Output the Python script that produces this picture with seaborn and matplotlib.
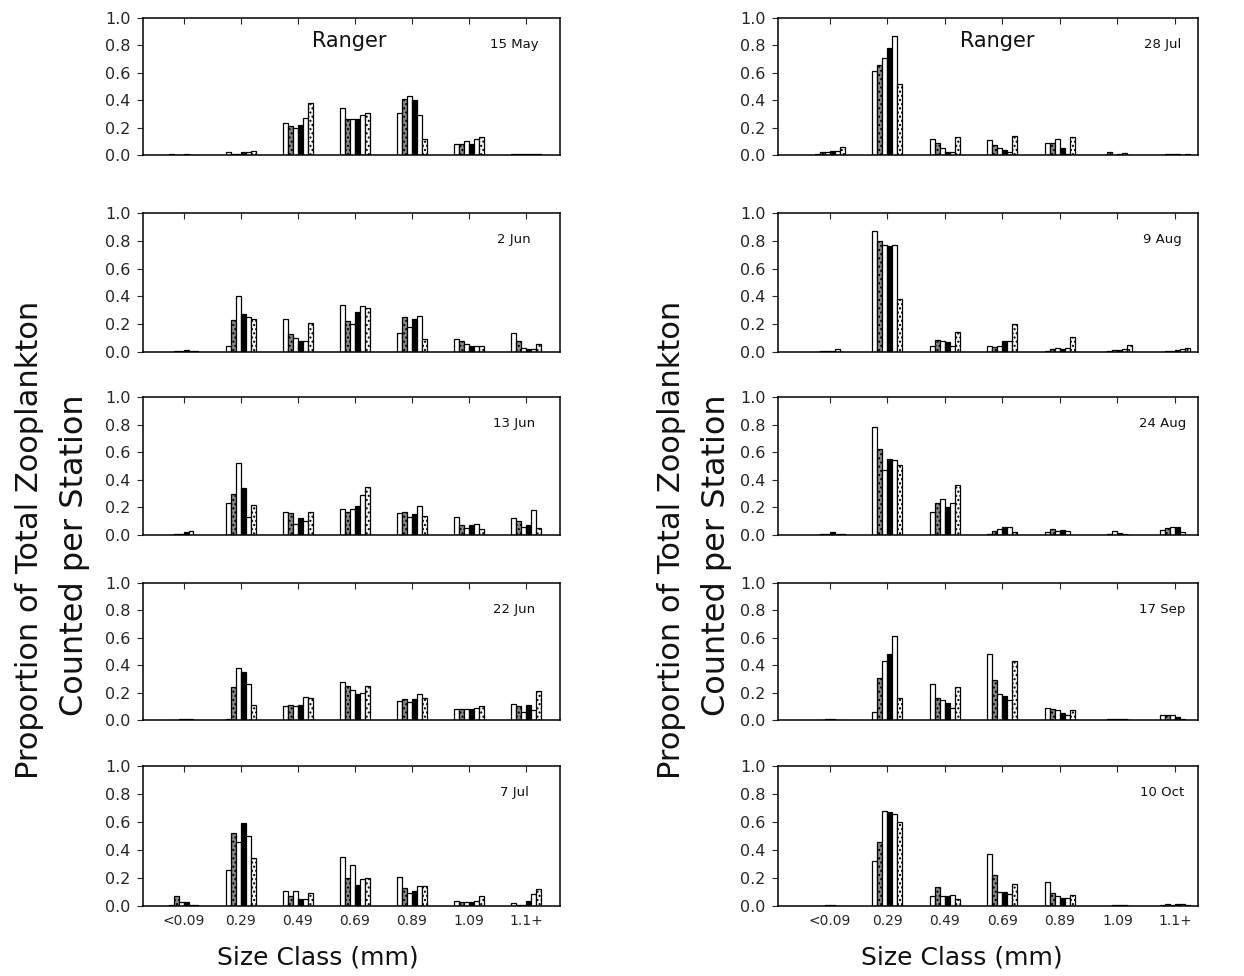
import numpy as np
import pandas as pd
import matplotlib
matplotlib.use("Agg")
import matplotlib.pyplot as plt
import seaborn as sns

# ---------------- data ----------------
size_classes = ["<0.09", "0.29", "0.49", "0.69", "0.89", "1.09", "1.1+"]
stations = ["S1", "S2", "S3", "S4", "S5", "S6"]

# rows: size class, columns: station
may15 = [[0.005, 0.0, 0.0, 0.005, 0.0, 0.0],
         [0.02, 0.01, 0.01, 0.02, 0.02, 0.03],
         [0.23, 0.21, 0.20, 0.22, 0.27, 0.38],
         [0.34, 0.26, 0.26, 0.26, 0.29, 0.31],
         [0.31, 0.41, 0.43, 0.40, 0.29, 0.12],
         [0.08, 0.08, 0.10, 0.08, 0.12, 0.13],
         [0.005, 0.01, 0.01, 0.01, 0.005, 0.005]]
jun02 = [[0.0, 0.005, 0.01, 0.015, 0.01, 0.005],
         [0.04, 0.23, 0.40, 0.27, 0.25, 0.24],
         [0.24, 0.13, 0.10, 0.08, 0.08, 0.21],
         [0.34, 0.22, 0.20, 0.29, 0.33, 0.32],
         [0.14, 0.25, 0.18, 0.24, 0.26, 0.09],
         [0.09, 0.08, 0.06, 0.04, 0.04, 0.04],
         [0.14, 0.08, 0.03, 0.02, 0.02, 0.06]]
jun13 = [[0.0, 0.01, 0.01, 0.02, 0.03, 0.0],
         [0.23, 0.30, 0.52, 0.34, 0.13, 0.22],
         [0.17, 0.16, 0.08, 0.12, 0.10, 0.17],
         [0.19, 0.17, 0.19, 0.21, 0.29, 0.35],
         [0.16, 0.17, 0.13, 0.15, 0.21, 0.14],
         [0.13, 0.07, 0.05, 0.07, 0.08, 0.04],
         [0.12, 0.10, 0.06, 0.07, 0.18, 0.05]]
jun22 = [[0.0, 0.0, 0.005, 0.01, 0.005, 0.0],
         [0.01, 0.24, 0.38, 0.35, 0.26, 0.11],
         [0.10, 0.11, 0.10, 0.11, 0.17, 0.16],
         [0.28, 0.25, 0.22, 0.19, 0.20, 0.25],
         [0.14, 0.15, 0.13, 0.15, 0.19, 0.16],
         [0.08, 0.08, 0.08, 0.08, 0.09, 0.10],
         [0.12, 0.10, 0.06, 0.11, 0.07, 0.21]]
jul07 = [[0.01, 0.07, 0.03, 0.03, 0.01, 0.01],
         [0.26, 0.52, 0.46, 0.59, 0.50, 0.34],
         [0.11, 0.07, 0.11, 0.05, 0.05, 0.09],
         [0.35, 0.20, 0.29, 0.15, 0.19, 0.20],
         [0.21, 0.13, 0.09, 0.11, 0.14, 0.14],
         [0.035, 0.03, 0.03, 0.03, 0.035, 0.07],
         [0.025, 0.005, 0.005, 0.035, 0.085, 0.125]]
jul28 = [[0.01, 0.02, 0.02, 0.03, 0.03, 0.06],
         [0.61, 0.66, 0.71, 0.78, 0.87, 0.52],
         [0.12, 0.09, 0.05, 0.025, 0.025, 0.13],
         [0.11, 0.07, 0.05, 0.04, 0.025, 0.14],
         [0.085, 0.09, 0.12, 0.05, 0.01, 0.13],
         [0.0, 0.02, 0.0, 0.01, 0.015, 0.0],
         [0.0, 0.01, 0.005, 0.01, 0.0, 0.01]]
aug09 = [[0.0, 0.01, 0.005, 0.01, 0.02, 0.0],
         [0.87, 0.80, 0.77, 0.76, 0.77, 0.38],
         [0.04, 0.085, 0.08, 0.07, 0.04, 0.145],
         [0.045, 0.035, 0.045, 0.08, 0.08, 0.205],
         [0.01, 0.02, 0.03, 0.02, 0.03, 0.11],
         [0.0, 0.01, 0.015, 0.015, 0.02, 0.05],
         [0.0, 0.005, 0.01, 0.015, 0.02, 0.03]]
aug24 = [[0.0, 0.005, 0.01, 0.02, 0.005, 0.01],
         [0.78, 0.62, 0.47, 0.55, 0.54, 0.51],
         [0.17, 0.235, 0.26, 0.20, 0.235, 0.36],
         [0.01, 0.03, 0.04, 0.055, 0.055, 0.02],
         [0.02, 0.045, 0.03, 0.035, 0.03, 0.0],
         [0.0, 0.01, 0.03, 0.015, 0.005, 0.0],
         [0.035, 0.05, 0.055, 0.055, 0.02, 0.0]]
sep17 = [[0.0, 0.0, 0.005, 0.01, 0.0, 0.0],
         [0.06, 0.31, 0.43, 0.48, 0.61, 0.16],
         [0.26, 0.16, 0.145, 0.125, 0.085, 0.24],
         [0.48, 0.295, 0.19, 0.175, 0.145, 0.43],
         [0.09, 0.08, 0.07, 0.05, 0.04, 0.07],
         [0.0, 0.005, 0.01, 0.01, 0.005, 0.0],
         [0.04, 0.035, 0.04, 0.02, 0.01, 0.0]]
oct10 = [[0.0, 0.0, 0.005, 0.005, 0.0, 0.0],
         [0.32, 0.455, 0.68, 0.67, 0.66, 0.60],
         [0.07, 0.135, 0.07, 0.07, 0.08, 0.05],
         [0.37, 0.22, 0.10, 0.10, 0.085, 0.155],
         [0.17, 0.09, 0.07, 0.06, 0.06, 0.08],
         [0.0, 0.0, 0.01, 0.005, 0.005, 0.0],
         [0.01, 0.015, 0.01, 0.015, 0.015, 0.01]]

left_dates = ["15 May", "2 Jun", "13 Jun", "22 Jun", "7 Jul"]
right_dates = ["28 Jul", "9 Aug", "24 Aug", "17 Sep", "10 Oct"]
left_data = [may15, jun02, jun13, jun22, jul07]
right_data = [jul28, aug09, aug24, sep17, oct10]
yticks = [0.0, 0.2, 0.4, 0.6, 0.8, 1.0]

# ---------------- style ----------------
sns.set_style("white")
plt.rcParams["font.family"] = ["DejaVu Sans"]
plt.rcParams["text.color"] = "#111111"

fills = {"S1": "white", "S2": "#8a8a8a", "S3": "white",
         "S4": "black", "S5": "white", "S6": "white"}
hatches = {"S1": "", "S2": "....", "S3": "", "S4": "", "S5": "", "S6": "...."}

W, H = 1244, 976
fig = plt.figure(figsize=(W / 100, H / 100), dpi=100)

rows_px = [(18, 155), (213, 352), (397, 535), (583, 720), (766, 906)]
cols_px = [(143, 560, -0.71, 6.59, 0.89), (778, 1198, -0.90, 6.40, 0.915)]


def make_df(mat):
    recs = []
    for ci, cls in enumerate(size_classes):
        for si, st in enumerate(stations):
            recs.append({"size": cls, "station": st, "value": mat[ci][si]})
    return pd.DataFrame(recs)


for col, (data_list, dates) in enumerate([(left_data, left_dates),
                                          (right_data, right_dates)]):
    x0, x1, xl, xr, dx = cols_px[col]
    for r, (mat, date) in enumerate(zip(data_list, dates)):
        t, b = rows_px[r]
        ax = fig.add_axes([x0 / W, 1 - b / H, (x1 - x0) / W, (b - t) / H])
        df = make_df(mat)
        sns.barplot(data=df, x="size", y="value", hue="station",
                    order=size_classes, hue_order=stations,
                    palette=fills, edgecolor="black", linewidth=0.9,
                    width=0.52, gap=0, errorbar=None, legend=False, ax=ax,
                    saturation=1)
        for cont, st in zip(ax.containers, stations):
            for p in cont:
                p.set_hatch(hatches[st])
        ax.set_xlim(xl, xr)
        ax.set_ylim(0, 1.0)
        ax.set_yticks(yticks)
        ax.set_yticklabels([f"{v:.1f}" for v in yticks], fontsize=11.5)
        ax.set_xlabel("")
        ax.set_ylabel("")
        for s in ax.spines.values():
            s.set_visible(True)
            s.set_color("black")
            s.set_linewidth(1.1)
        ax.tick_params(axis="y", direction="out", length=4, width=0.8,
                       left=True, pad=5)
        ax.tick_params(axis="x", top=True, bottom=False, direction="in",
                       length=4, width=0.8, labeltop=False)
        if r == len(rows_px) - 1:
            ax.set_xticklabels(size_classes, fontsize=10)
            ax.tick_params(axis="x", labelbottom=True, pad=6)
        else:
            ax.tick_params(axis="x", labelbottom=False)
        ax.text(dx, 0.81, date, transform=ax.transAxes, fontsize=9.5,
                ha="center", va="center")
        if r == 0:
            cx = 349 if col == 0 else 997
            ax.text((cx - x0) / (x1 - x0), 0.83, "Ranger",
                    transform=ax.transAxes, fontsize=15, ha="center",
                    va="center")

# outer labels
for x1p, x2p, cxp in [(30, 75, 318), (672, 717, 962)]:
    fig.text(x1p / W, 1 - 540 / H, "Proportion of Total Zooplankton",
             rotation=90, ha="center", va="center", fontsize=22)
    fig.text(x2p / W, 1 - 555 / H, "Counted per Station",
             rotation=90, ha="center", va="center", fontsize=23)
    fig.text(cxp / W, 1 - 957 / H, "Size Class (mm)",
             ha="center", va="center", fontsize=18)

fig.savefig("out.png", dpi=100)
